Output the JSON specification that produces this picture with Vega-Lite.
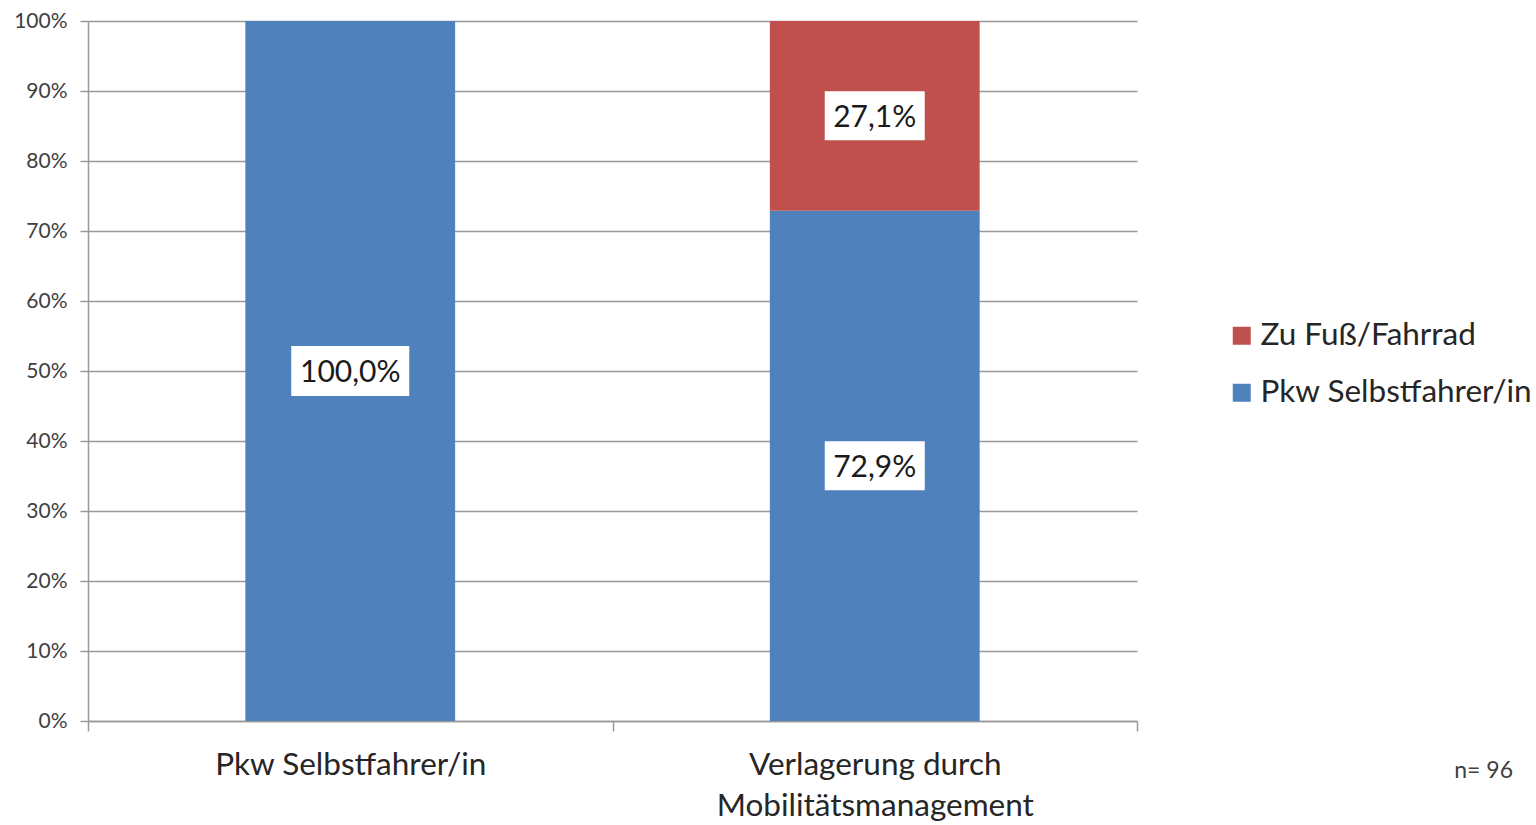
{
  "$schema": "https://vega.github.io/schema/vega-lite/v6.json",
  "autosize": {"type": "none"},
  "padding": {"left": 88, "top": 21, "right": 399, "bottom": 104},
  "width": 1049,
  "height": 700,
  "background": "white",
  "config": {
    "locale": {"number": {"decimal": ",", "thousands": ".", "grouping": [3], "currency": ["", " €"]}},
    "font": "Lato",
    "view": {"stroke": null}
  },
  "title": {
    "text": "n= 96",
    "orient": "bottom",
    "anchor": "end",
    "frame": "group",
    "fontSize": 23,
    "fontWeight": "normal",
    "color": "#404040",
    "font": "Lato",
    "dx": 376,
    "dy": -66
  },
  "data": {
    "values": [
      {"cat": "Pkw Selbstfahrer/in", "series": "Pkw Selbstfahrer/in", "value": 1.0},
      {"cat": "Verlagerung durch Mobilitätsmanagement", "series": "Pkw Selbstfahrer/in", "value": 0.729},
      {"cat": "Verlagerung durch Mobilitätsmanagement", "series": "Zu Fuß/Fahrrad", "value": 0.271}
    ]
  },
  "transform": [
    {"stack": "value", "groupby": ["cat"], "sort": [{"field": "series", "order": "ascending"}], "as": ["y0", "y1"]},
    {"calculate": "(datum.y0 + datum.y1) / 2", "as": "mid"}
  ],
  "encoding": {
    "x": {
      "field": "cat",
      "type": "nominal",
      "sort": null,
      "scale": {"paddingInner": 0, "paddingOuter": 0},
      "axis": {
        "title": null,
        "labelAngle": 0,
        "labelFontSize": 31.5,
        "labelColor": "#262626",
        "labelPadding": 18,
        "labelLineHeight": 41,
        "labelBaseline": "top",
        "labelLimit": 600,
        "labelExpr": "datum.label == 'Verlagerung durch Mobilitätsmanagement' ? ['Verlagerung durch', 'Mobilitätsmanagement'] : datum.label",
        "tickBand": "extent",
        "tickSize": 10,
        "tickColor": "#999999",
        "tickWidth": 1.5,
        "domainColor": "#999999",
        "domainWidth": 1.5,
        "grid": false
      }
    }
  },
  "layer": [
    {
      "mark": {"type": "bar", "width": {"band": 0.4}},
      "encoding": {
        "y": {
          "field": "y1",
          "type": "quantitative",
          "scale": {"domain": [0, 1], "nice": false},
          "axis": {
            "title": null,
            "values": [0, 0.1, 0.2, 0.3, 0.4, 0.5, 0.6, 0.7, 0.8, 0.9, 1.0],
            "format": ".0%",
            "labelFontSize": 21,
            "labelColor": "#404040",
            "labelPadding": 13,
            "tickSize": 8,
            "tickColor": "#999999",
            "tickWidth": 1.5,
            "domainColor": "#999999",
            "domainWidth": 1.5,
            "grid": true,
            "gridColor": "#999999",
            "gridWidth": 1.5
          }
        },
        "y2": {"field": "y0"},
        "color": {
          "field": "series",
          "type": "nominal",
          "scale": {"domain": ["Zu Fuß/Fahrrad", "Pkw Selbstfahrer/in"], "range": ["#C0504D", "#4F81BD"]},
          "legend": {
            "title": null,
            "orient": "none",
            "legendX": 1138,
            "legendY": 299,
            "symbolType": "square",
            "symbolSize": 324,
            "symbolStrokeWidth": 0,
            "labelFontSize": 31.5,
            "labelColor": "#262626",
            "labelOffset": 3,
            "rowPadding": 24,
            "labelLimit": 400
          }
        }
      }
    },
    {
      "mark": {"type": "point", "filled": true, "color": "white", "opacity": 1},
      "encoding": {
        "y": {"field": "mid", "type": "quantitative"},
        "shape": {"condition": {"test": "datum.value == 1", "value": "M-1,-0.424L1,-0.424L1,0.424L-1,0.424Z"}, "value": "M-1,-0.49L1,-0.49L1,0.49L-1,0.49Z"},
        "size": {"condition": {"test": "datum.value == 1", "value": 13924}, "value": 10000}
      }
    },
    {
      "mark": {"type": "text", "fontSize": 30, "color": "#1a1a1a", "baseline": "middle", "align": "center", "dy": 2},
      "encoding": {
        "y": {"field": "mid", "type": "quantitative"},
        "text": {"field": "value", "type": "quantitative", "format": ".1%"}
      }
    }
  ]
}
